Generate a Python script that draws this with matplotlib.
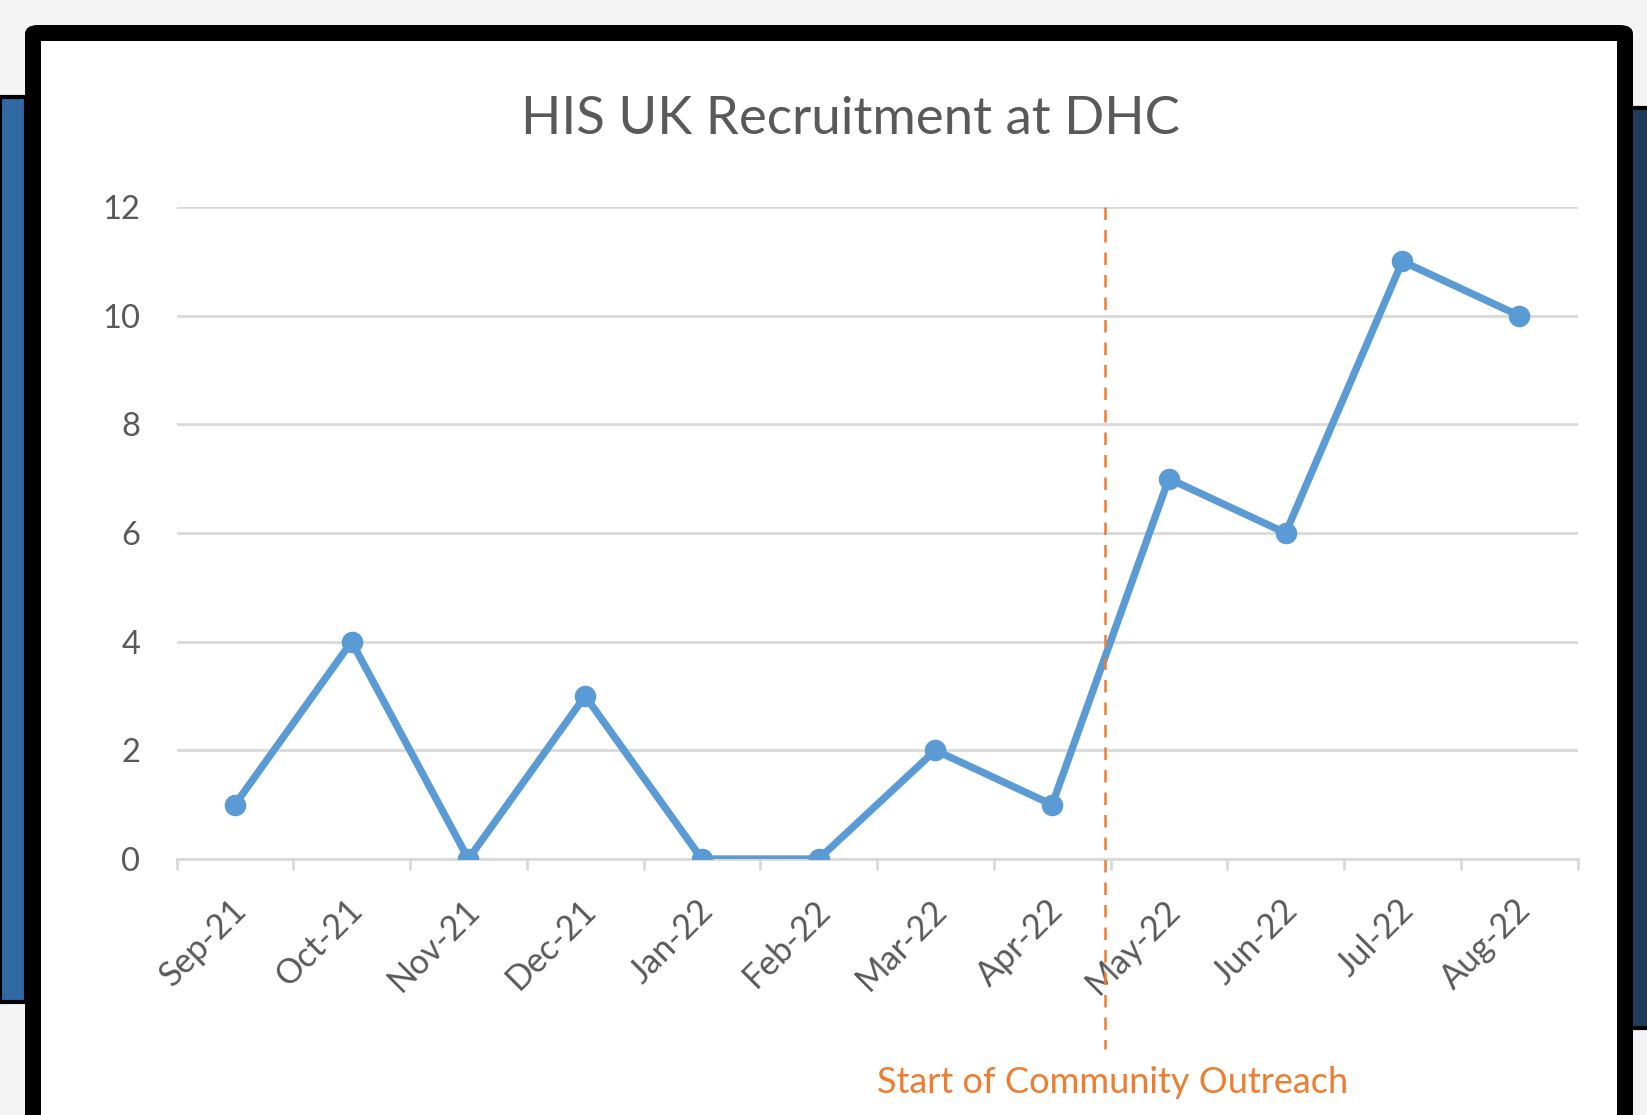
import matplotlib.pyplot as plt
from matplotlib.patches import Rectangle, FancyBboxPatch
from matplotlib.transforms import ScaledTranslation

plt.rcParams['font.family'] = ['Lato', 'DejaVu Sans']

months = ['Sep-21', 'Oct-21', 'Nov-21', 'Dec-21', 'Jan-22', 'Feb-22',
          'Mar-22', 'Apr-22', 'May-22', 'Jun-22', 'Jul-22', 'Aug-22']
recruits = [1, 4, 0, 3, 0, 0, 2, 1, 7, 6, 11, 10]
outreach_start = 7.45
outreach_label = 'Start of Community Outreach'

W, H = 1647, 1115
fig = plt.figure(figsize=(W / 100, H / 100), dpi=100)
fig.patch.set_facecolor('#f4f4f4')

def px(x, y, w, h):
    # pixel box (top-left origin) -> figure fraction
    return (x / W, 1 - (y + h) / H, w / W, h / H)

# slide backdrop behind the chart frame
x0, y0, w0, h0 = px(0, 97, 26, 905)
fig.add_artist(Rectangle((x0, y0), w0, h0, transform=fig.transFigure,
                         facecolor='#2f6aa3', edgecolor='black', lw=3, zorder=0))
x0, y0, w0, h0 = px(1615, 108, 40, 920)
fig.add_artist(Rectangle((x0, y0), w0, h0, transform=fig.transFigure,
                         facecolor='#1f3b5c', edgecolor='black', lw=3, zorder=0))

# black frame with white chart area
x0, y0, w0, h0 = px(25, 25, 1608, 1150)
fig.add_artist(FancyBboxPatch((x0, y0), w0, h0, transform=fig.transFigure,
                              boxstyle='round,pad=0,rounding_size=0.008',
                              facecolor='black', edgecolor='none', zorder=1))
x0, y0, w0, h0 = px(41, 41, 1576, 1150)
fig.add_artist(Rectangle((x0, y0), w0, h0, transform=fig.transFigure,
                         facecolor='white', edgecolor='none', zorder=2))

ax = fig.add_axes(px(176.5, 207, 1401, 652))
ax.set_zorder(3)
ax.patch.set_alpha(0)

x = range(len(months))
ax.plot(x, recruits, color='#5b9bd5', lw=5.3, marker='o', markersize=14.5,
        solid_joinstyle='round', zorder=3)

ax.set_xlim(-0.5, len(months) - 0.5)
ax.set_ylim(0, 12)
ax.set_yticks(range(0, 13, 2))
ax.yaxis.grid(True, color='#d9d9d9', lw=2)
ax.set_axisbelow(True)

for s in ['top', 'right', 'left']:
    ax.spines[s].set_visible(False)
ax.spines['bottom'].set_color('#d9d9d9')
ax.spines['bottom'].set_linewidth(2)

ax.set_xticks(x)
ax.set_xticklabels(months, rotation=45, ha='right', rotation_mode='anchor')
ax.set_xticks([i - 0.5 for i in range(len(months) + 1)], minor=True)
ax.tick_params(axis='x', which='major', length=0, pad=25,
               labelsize=24.5, labelcolor='#595959')
ax.tick_params(axis='x', which='minor', length=8, width=2, color='#d9d9d9')
ax.tick_params(axis='y', length=0, pad=26, labelsize=23.5, labelcolor='#595959')

# nudge the slanted month labels a little to the left
shift = ScaledTranslation(-5 / 100, 0, fig.dpi_scale_trans)
for lbl in ax.get_xticklabels():
    lbl.set_transform(lbl.get_transform() + shift)

fig.text(850 / W, 1 - 120 / H, 'HIS UK Recruitment at DHC', fontsize=38,
         color='#595959', ha='center', va='center', zorder=5)

# outreach marker runs below the axis down to its label
ax.plot([outreach_start, outreach_start], [12, -3.5], color='#ed7d31', lw=1.8,
        ls=(0, (5, 4)), clip_on=False, zorder=4)
ax.text(7.52, -4.12, outreach_label, color='#ed7d31',
        fontsize=26, ha='center', va='center', clip_on=False)

fig.savefig('out.png', dpi=100, facecolor=fig.get_facecolor())
